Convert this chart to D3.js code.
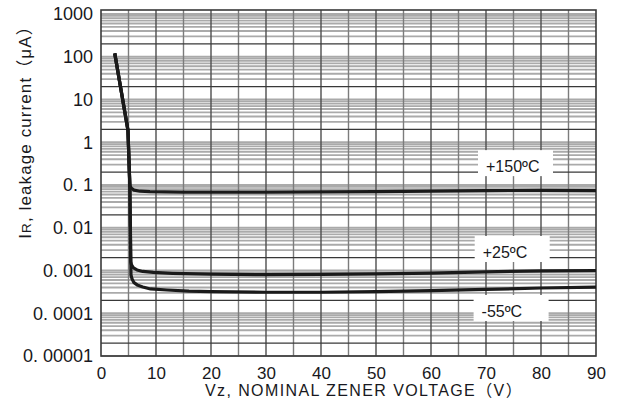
<!DOCTYPE html>
<html>
<head>
<meta charset="utf-8">
<script src="https://cdn.jsdelivr.net/npm/d3@7/dist/d3.min.js"></script>
<style>
  html, body { margin: 0; padding: 0; background: #fff; }
  svg { display: block; }
  text { font-family: "Liberation Sans", Arial, "Noto Sans CJK SC", sans-serif; fill: #181820; }
</style>
</head>
<body>
<svg id="chart" width="619" height="418"></svg>
<script>
// Zener leakage current vs nominal zener voltage, three junction temperatures.
const vz150 = [2.5, 4.9, 5.25, 5.55, 6.0, 7.1, 8.9, 11.6, 15, 20, 30, 40, 50, 60, 70, 80, 90];
const ir150 = [120, 1.9, 0.095, 0.083, 0.076, 0.0716, 0.070, 0.069, 0.068, 0.068, 0.068, 0.069, 0.070, 0.072, 0.074, 0.075, 0.074];

const vz25 = [2.5, 4.9, 5.25, 5.4, 5.55, 5.9, 6.55, 7.6, 9.5, 13, 20, 30, 40, 50, 60, 70, 80, 90];
const ir25 = [120, 1.9, 0.09, 0.0016, 0.00135, 0.00115, 0.00103, 0.00095, 0.0009, 0.00086, 0.00082, 0.0008, 0.00081, 0.00083, 0.00087, 0.00093, 0.00098, 0.001];

const vzM55 = [2.5, 4.9, 5.25, 5.45, 5.65, 6.0, 6.7, 7.6, 9, 12, 16, 20, 30, 40, 50, 60, 70, 80, 90];
const irM55 = [120, 1.9, 0.09, 0.000785, 0.00063, 0.00052, 0.00045, 0.00041, 0.00037, 0.00035, 0.00033, 0.00032, 0.00031, 0.00031, 0.00032, 0.00034, 0.00036, 0.00039, 0.00041];

const xTicks = [0, 10, 20, 30, 40, 50, 60, 70, 80, 90];
const yTicks = [1e-5, 1e-4, 1e-3, 1e-2, 1e-1, 1, 10, 100, 1000];
const yTickLabels = ["0. 00001", "0. 0001", "0. 001", "0. 01", "0. 1", "1", "10", "100", "1000"];

const curveNames = ["+150ºC", "+25ºC", "-55ºC"];
const labelVz = [70, 69.4, 69.2];
const labelIr = [0.2, 0.00196, 0.0000817];

const svg = d3.select("#chart");
const frame = { left: 101, right: 596, top: 10, bottom: 356 };

const x = d3.scaleLinear().domain([0, 90]).range([frame.left, frame.right]);
const y = d3.scaleLog().domain([1e-5, 1e3]).range([356, 14]);

svg.append("rect").attr("width", 619).attr("height", 418).attr("fill", "#fff");

// log-paper grid: light minor lines, darker line at each 2× mark
const gridTicks = y.ticks().filter(t => y(t) >= frame.top && y(t) <= frame.bottom);
const mant = t => Math.round(t / Math.pow(10, Math.floor(Math.log10(t) + 1e-9)));
const g = svg.append("g");
g.selectAll("line.minor").data(gridTicks.filter(t => mant(t) !== 2)).join("line")
  .attr("x1", frame.left).attr("x2", frame.right)
  .attr("y1", d => y(d)).attr("y2", d => y(d))
  .attr("stroke", "#aaaaaa").attr("stroke-width", 1.8);

const vLines = d3.range(5, 90, 5);
g.selectAll("line.v").data(vLines).join("line")
  .attr("x1", d => x(d)).attr("x2", d => x(d))
  .attr("y1", frame.top).attr("y2", frame.bottom)
  .attr("stroke", d => d % 10 === 0 ? "#4e4e4e" : "#7c7c7c")
  .attr("stroke-width", 1.4);

g.selectAll("line.major").data(gridTicks.filter(t => mant(t) === 2)).join("line")
  .attr("x1", frame.left).attr("x2", frame.right)
  .attr("y1", d => y(d)).attr("y2", d => y(d))
  .attr("stroke", "#383838").attr("stroke-width", 1.3);

// curve label boxes mask the grid
const labels = curveNames.map((name, i) => ({ name, v: labelVz[i], ir: labelIr[i] }));
svg.selectAll("rect.lbl").data(labels).join("rect")
  .attr("x", d => x(d.v) - 8).attr("y", d => y(d.ir) - 22)
  .attr("width", 75).attr("height", 26)
  .attr("fill", "#fff");

svg.append("rect")
  .attr("x", frame.left).attr("y", frame.top)
  .attr("width", frame.right - frame.left).attr("height", frame.bottom - frame.top)
  .attr("fill", "none").attr("stroke", "#3a3a3a").attr("stroke-width", 1.6);

// curves
const series = [
  d3.zip(vz150, ir150),
  d3.zip(vz25, ir25),
  d3.zip(vzM55, irM55)
];
const line = d3.line().x(d => x(d[0])).y(d => y(d[1]));
svg.selectAll("path.curve").data(series).join("path")
  .attr("d", line)
  .attr("fill", "none").attr("stroke", "#1a1a1a").attr("stroke-width", 3.2)
  .attr("stroke-linejoin", "round");

svg.selectAll("text.lbl").data(labels).join("text")
  .attr("x", d => x(d.v)).attr("y", d => y(d.ir))
  .attr("font-size", 16).text(d => d.name);

// axes (labels only)
const xAxis = svg.append("g").attr("transform", `translate(0,${frame.bottom})`)
  .call(d3.axisBottom(x).tickValues(xTicks).tickSize(0).tickPadding(11).tickFormat(d3.format("d")));
xAxis.select(".domain").remove();
xAxis.selectAll("text").attr("font-size", 17).attr("dy", "0.71em");

const yAxis = svg.append("g").attr("transform", `translate(${frame.left},0)`)
  .call(d3.axisLeft(y).tickValues(yTicks).tickSize(0).tickPadding(8)
    .tickFormat((d, i) => yTickLabels[i]));
yAxis.select(".domain").remove();
yAxis.selectAll("text").attr("font-size", 18);

// axis titles
svg.append("text").attr("x", 364).attr("y", 396)
  .attr("text-anchor", "middle").attr("font-size", 16).attr("letter-spacing", 1.4)
  .text("Vz, NOMINAL ZENER VOLTAGE（V）");

const yt = svg.append("text").attr("transform", "translate(31,128) rotate(-90)")
  .attr("text-anchor", "middle").attr("font-size", 17).attr("letter-spacing", 1.1);
yt.append("tspan").text("I");
yt.append("tspan").attr("font-size", 13.5).text("R");
yt.append("tspan").text(", leakage current（μA）");
</script>
</body>
</html>
